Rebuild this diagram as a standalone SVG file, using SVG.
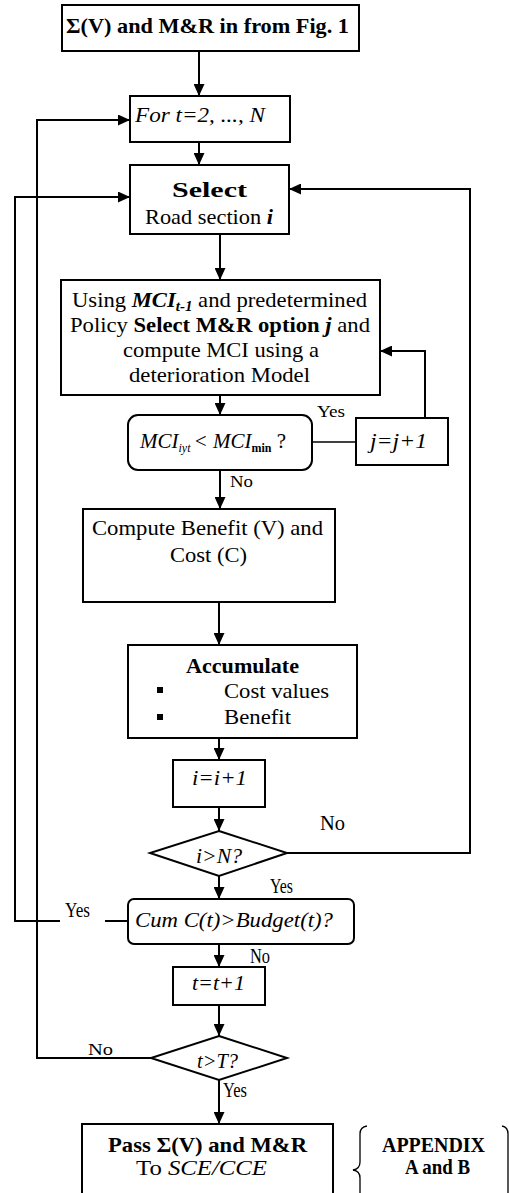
<svg xmlns="http://www.w3.org/2000/svg" width="509" height="1193" viewBox="0 0 509 1193" font-family="'Liberation Serif', 'DejaVu Serif', serif">
  <style>
    .box { fill: #fff; stroke: #000; stroke-width: 2; }
    .ln { fill: none; stroke: #000; stroke-width: 2; }
    .thin { fill: none; stroke: #000; stroke-width: 1.3; }
    text { font-family: "Liberation Serif", "DejaVu Serif", serif; fill: #000; font-size: 21px; }
    .b { font-weight: bold; }
    .i { font-style: italic; }
    .lbl { font-size: 16px; }
  </style>
  <defs>
    <marker id="arrow" markerUnits="userSpaceOnUse" markerWidth="12" markerHeight="11" refX="12" refY="5.5" orient="auto">
      <path d="M0,0 L12,5.5 L0,11 z" fill="#000"/>
    </marker>
  </defs>
  <rect width="509" height="1193" fill="#fff"/>

  <!-- connectors -->
  <g id="connectors">
    <path class="ln" d="M199,51 V96" marker-end="url(#arrow)"/>
    <path class="ln" d="M199,142 V165" marker-end="url(#arrow)"/>
    <path class="ln" d="M220,234 V280" marker-end="url(#arrow)"/>
    <path class="ln" d="M220,395 V415" marker-end="url(#arrow)"/>
    <path class="ln" d="M220,470 V509" marker-end="url(#arrow)"/>
    <path class="ln" d="M219,602 V645" marker-end="url(#arrow)"/>
    <path class="ln" d="M219,738 V760" marker-end="url(#arrow)"/>
    <path class="ln" d="M219,807 V831" marker-end="url(#arrow)"/>
    <path class="ln" d="M219,876 V899" marker-end="url(#arrow)"/>
    <path class="ln" d="M219,944 V967" marker-end="url(#arrow)"/>
    <path class="ln" d="M219,1005 V1036" marker-end="url(#arrow)"/>
    <path class="ln" d="M219,1080 V1124" marker-end="url(#arrow)"/>
    <!-- MCI check fails: next option -->
    <path class="thin" d="M312,442 H356"/>
    <path class="ln" d="M425,418 V351 H380" marker-end="url(#arrow)"/>
    <!-- next road section -->
    <path class="ln" d="M287,853 H470 V189 H289" marker-end="url(#arrow)"/>
    <!-- over budget -->
    <path class="ln" d="M128,921 H105"/>
    <path class="ln" d="M60,921 H15 V197 H130" marker-end="url(#arrow)"/>
    <!-- next year -->
    <path class="ln" d="M151,1058 H37 V120 H130" marker-end="url(#arrow)"/>
  </g>

  <g id="input">
    <rect class="box" x="62" y="5" width="297" height="46"/>
    <text class="b" x="66" y="33" textLength="283" lengthAdjust="spacingAndGlyphs">Σ(V) and M&amp;R in from Fig. 1</text>
  </g>

  <g id="year-loop">
    <rect class="box" x="130" y="96" width="160" height="46"/>
    <text class="i" x="135" y="122" font-size="18" textLength="130" lengthAdjust="spacingAndGlyphs">For t=2, ..., N</text>
  </g>

  <g id="select-section">
    <rect class="box" x="130" y="165" width="159" height="69"/>
    <text class="b" x="172" y="197" font-size="27" textLength="75" lengthAdjust="spacingAndGlyphs">Select</text>
    <text x="145" y="224" textLength="128" lengthAdjust="spacingAndGlyphs">Road section <tspan class="b i">i</tspan></text>
  </g>

  <g id="select-option">
    <rect class="box" x="61" y="280" width="319" height="115"/>
    <text x="72" y="307" textLength="295" lengthAdjust="spacingAndGlyphs">Using <tspan class="b i">MCI</tspan><tspan class="b i" font-size="14" dy="4">t-1</tspan><tspan dy="-4"> and predetermined</tspan></text>
    <text x="70" y="332" textLength="300" lengthAdjust="spacingAndGlyphs">Policy <tspan class="b">Select M&amp;R option </tspan><tspan class="b i">j</tspan> and</text>
    <text x="123" y="357" textLength="196" lengthAdjust="spacingAndGlyphs">compute MCI using a</text>
    <text x="129" y="382" textLength="181" lengthAdjust="spacingAndGlyphs">deterioration Model</text>
  </g>

  <g id="mci-check">
    <rect class="box" x="128" y="415" width="184" height="55" rx="10"/>
    <text x="140" y="448"><tspan class="i">MCI</tspan><tspan class="i" font-size="12" dy="4">iyt</tspan><tspan class="i" dy="-4" dx="3">&lt; MCI</tspan><tspan class="b" font-size="12" dy="4">min</tspan><tspan dy="-4"> ?</tspan></text>
    <text class="lbl" x="317" y="417" textLength="28" lengthAdjust="spacingAndGlyphs">Yes</text>
    <text class="lbl" x="230" y="487" textLength="23" lengthAdjust="spacingAndGlyphs">No</text>
  </g>

  <g id="next-option">
    <rect class="box" x="356" y="418" width="92" height="47"/>
    <text class="i" x="370" y="448" textLength="57" lengthAdjust="spacingAndGlyphs">j=j+1</text>
  </g>

  <g id="compute">
    <rect class="box" x="83" y="509" width="252" height="93"/>
    <text x="92" y="535" textLength="231" lengthAdjust="spacingAndGlyphs">Compute Benefit (V) and</text>
    <text x="170" y="562" textLength="77" lengthAdjust="spacingAndGlyphs">Cost (C)</text>
  </g>

  <g id="accumulate">
    <rect class="box" x="128" y="645" width="229" height="93"/>
    <text class="b" x="186" y="673" font-size="20" textLength="113" lengthAdjust="spacingAndGlyphs">Accumulate</text>
    <rect x="157" y="687" width="6" height="6" fill="#000"/>
    <text x="224" y="698" textLength="105" lengthAdjust="spacingAndGlyphs">Cost values</text>
    <rect x="157" y="714" width="6" height="6" fill="#000"/>
    <text x="224" y="724" textLength="67" lengthAdjust="spacingAndGlyphs">Benefit</text>
  </g>

  <g id="next-section">
    <rect class="box" x="173" y="760" width="92" height="47"/>
    <text class="i" x="192" y="785" font-size="20" textLength="55" lengthAdjust="spacingAndGlyphs">i=i+1</text>
  </g>

  <g id="all-sections">
    <polygon class="box" points="219,831 287,853 219,876 150,853"/>
    <text class="i" x="196" y="863" font-size="18" textLength="46" lengthAdjust="spacingAndGlyphs">i&gt;N?</text>
    <text x="320" y="830" font-size="17" textLength="25" lengthAdjust="spacingAndGlyphs">No</text>
    <text x="270" y="893" font-size="14" textLength="23" lengthAdjust="spacingAndGlyphs">Yes</text>
  </g>

  <g id="budget-check">
    <rect class="box" x="128" y="899" width="226" height="45" rx="6"/>
    <text class="i" x="135" y="927" textLength="198" lengthAdjust="spacingAndGlyphs">Cum C(t)&gt;Budget(t)?</text>
    <text x="65" y="917" font-size="15" textLength="25" lengthAdjust="spacingAndGlyphs">Yes</text>
    <text x="250" y="963" font-size="14" textLength="20" lengthAdjust="spacingAndGlyphs">No</text>
  </g>

  <g id="next-year">
    <rect class="box" x="173" y="967" width="92" height="38"/>
    <text class="i" x="192" y="990" font-size="20" textLength="53" lengthAdjust="spacingAndGlyphs">t=t+1</text>
  </g>

  <g id="all-years">
    <polygon class="box" points="219,1036 287,1058 219,1080 151,1058"/>
    <text class="i" x="197" y="1068" font-size="18" textLength="41" lengthAdjust="spacingAndGlyphs">t&gt;T?</text>
    <text class="lbl" x="88" y="1055" textLength="25" lengthAdjust="spacingAndGlyphs">No</text>
    <text x="223" y="1097" font-size="14" textLength="24" lengthAdjust="spacingAndGlyphs">Yes</text>
  </g>

  <g id="output">
    <rect class="box" x="82" y="1124" width="251" height="74"/>
    <text class="b" x="108" y="1152" font-size="20" textLength="199" lengthAdjust="spacingAndGlyphs">Pass Σ(V) and M&amp;R</text>
    <text x="136" y="1175" font-size="20" textLength="131" lengthAdjust="spacingAndGlyphs">To <tspan class="i">SCE/CCE</tspan></text>
  </g>

  <g id="appendix">
    <path class="thin" d="M367,1126 Q360,1127 360,1134 V1162 Q360,1169 353,1170 Q360,1171 360,1178 V1200"/>
    <path class="thin" d="M502,1126 Q508,1127 508,1134 V1200"/>
    <text class="b" x="382" y="1152" font-size="16" textLength="103" lengthAdjust="spacingAndGlyphs">APPENDIX</text>
    <text class="b" x="405" y="1174" font-size="16" textLength="65" lengthAdjust="spacingAndGlyphs">A and B</text>
  </g>
</svg>
